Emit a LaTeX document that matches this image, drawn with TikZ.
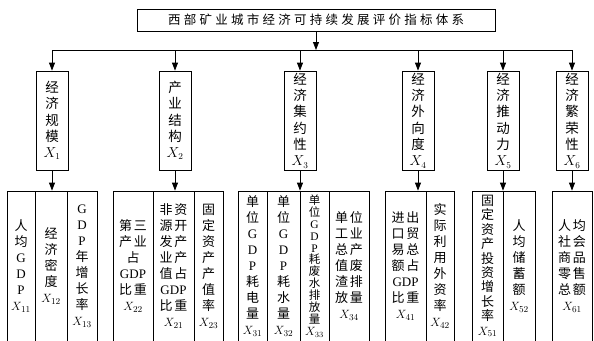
\documentclass[tikz,border=0pt]{standalone}
\usepackage{fontspec}
\setmainfont{Liberation Serif}
\newfontfamily\cjk{Noto Sans CJK SC}
\newfontfamily\cjktitle[LetterSpace=26]{Noto Sans CJK SC}
\usetikzlibrary{arrows.meta}

\newcommand\cjksize[2]{\cjk\fontsize{#1}{#2}\selectfont\lineskiplimit=-10pt\relax}
\newcommand\lat[1]{{\rmfamily #1}}
\newcommand\pair[2]{#1\hspace{2pt}#2}

\tikzset{
  arrowline/.style={-{Triangle[width=6pt,length=8pt]}, line width=0.8pt},
  titlebox/.style={draw, line width=0.8pt, minimum width=358, minimum height=22,
    inner sep=0pt, font=\cjktitle\fontsize{12.5}{14}\selectfont},
  catbox/.style={draw, line width=0.8pt, minimum width=32, minimum height=99,
    inner sep=0pt, align=center, font=\cjksize{13.5}{16.3}},
  leafbox/.style={draw, line width=0.8pt, minimum height=150,
    inner sep=0pt, align=center, font=\cjksize{13}{16}},
}

\begin{document}
\begin{tikzpicture}[x=1pt, y=-1pt]
  \useasboundingbox (0,0) rectangle (594,340);

  % Draw the title box
  \node[titlebox] (title) at (316,20) {西部矿业城市经济可持续发展评价指标体系};

  % Draw the six criteria boxes
  \node[catbox] (X1) at (52,120.5)  {经\\济\\规\\模\\$X_1$};
  \node[catbox] (X2) at (175,120.5) {产\\业\\结\\构\\$X_2$};
  \node[catbox] (X3) at (300,120.5) {经\\济\\集\\约\\性\\$X_3$};
  \node[catbox] (X4) at (418,120.5) {经\\济\\外\\向\\度\\$X_4$};
  \node[catbox] (X5) at (503,120.5) {经\\济\\推\\动\\力\\$X_5$};
  \node[catbox] (X6) at (572,120.5) {经\\济\\繁\\荣\\性\\$X_6$};

  % Draw the arrows from the title to the criteria
  \coordinate (bar) at (316,50);
  \draw[arrowline] (title.south) -- (bar);
  \draw[line width=0.8pt] (X1.north |- bar) -- (X6.north |- bar);
  \foreach \c in {X1,X2,X3,X4,X5,X6}
    \draw[arrowline] (\c.north |- bar) -- (\c.north);

  % Draw the indicator boxes
  \node[leafbox, minimum width=28] (X11) at (21,266)
    {人\\均\\\lat{G}\\\lat{D}\\\lat{P}\\$X_{11}$};
  \node[leafbox, minimum width=32] (X12) at (51,266)
    {经\\济\\密\\度\\$X_{12}$};
  \node[leafbox, minimum width=30] (X13) at (82,266)
    {\lat{G}\\\lat{D}\\\lat{P}\\年\\增\\长\\率\\$X_{13}$};
  \node[leafbox, minimum width=40] (X22) at (133,266)
    {\pair{第}{三}\\\pair{产}{业}\\占\\\lat{GDP}\\\pair{比}{重}\\$X_{22}$};
  \node[leafbox, minimum width=41] (X21) at (173.5,266)
    {\pair{非}{资}\\\pair{源}{开}\\\pair{发}{产}\\\pair{业}{产}\\\pair{值}{占}\\\lat{GDP}\\\pair{比}{重}\\$X_{21}$};
  \node[leafbox, minimum width=29] (X23) at (208.5,266)
    {固\\定\\资\\产\\产\\值\\率\\$X_{23}$};
  \node[leafbox, minimum width=29] (X31) at (252.5,266)
    {单\\位\\\lat{G}\\\lat{D}\\\lat{P}\\耗\\电\\量\\$X_{31}$};
  \node[leafbox, minimum width=33] (X32) at (283.5,266)
    {单\\位\\\lat{G}\\\lat{D}\\\lat{P}\\耗\\水\\量\\$X_{32}$};
  \node[leafbox, minimum width=29, font=\cjksize{11.5}{11.9}] (X33) at (314.5,266)
    {单\\位\\\lat{G}\\\lat{D}\\\lat{P}\\耗\\废\\水\\排\\放\\量\\$X_{33}$};
  \node[leafbox, minimum width=40] (X34) at (349,266)
    {\pair{单}{位}\\\pair{工}{业}\\\pair{总}{产}\\\pair{值}{废}\\\pair{渣}{排}\\\pair{放}{量}\\$X_{34}$};
  \node[leafbox, minimum width=41] (X41) at (405.5,266)
    {\pair{进}{出}\\\pair{口}{贸}\\\pair{易}{总}\\\pair{额}{占}\\\lat{GDP}\\\pair{比}{重}\\$X_{41}$};
  \node[leafbox, minimum width=28] (X42) at (440,266)
    {实\\际\\利\\用\\外\\资\\率\\$X_{42}$};
  \node[leafbox, minimum width=31, font=\cjksize{13}{14.4}] (X51) at (487.5,266)
    {固\\定\\资\\产\\投\\资\\增\\长\\率\\$X_{51}$};
  \node[leafbox, minimum width=32] (X52) at (519,266)
    {人\\均\\储\\蓄\\额\\$X_{52}$};
  \node[leafbox, minimum width=40] (X61) at (572,266)
    {\pair{人}{均}\\\pair{社}{会}\\\pair{商}{品}\\\pair{零}{售}\\\pair{总}{额}\\$X_{61}$};

  % Draw the arrows from the criteria to their indicators
  \foreach \c/\t in {X1/X12, X2/X21, X3/X32, X4/X41, X5/X51, X6/X61}
    \draw[arrowline] (\c.south) -- (\c.south |- \t.north);

\end{tikzpicture}
\end{document}
